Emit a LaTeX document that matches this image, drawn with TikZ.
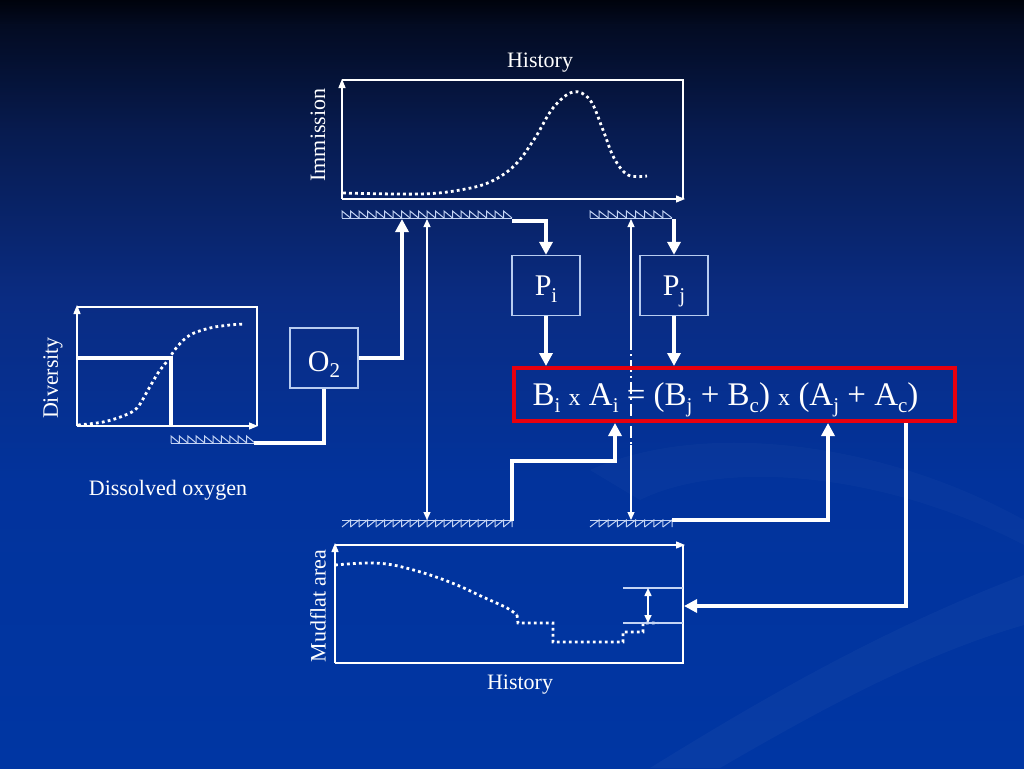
\documentclass[tikz,border=0pt]{standalone}
\usepackage{fontspec}
\setmainfont{Liberation Serif}
\usetikzlibrary{arrows.meta}
\definecolor{bg0}{HTML}{00030C}
\definecolor{bg1}{HTML}{030B22}
\definecolor{bg2}{HTML}{071B4F}
\definecolor{bg3}{HTML}{0A2C83}
\definecolor{bg4}{HTML}{02339C}
\definecolor{bg5}{HTML}{0036A3}
\definecolor{hatchc}{HTML}{C4D4F4}
\definecolor{boxc}{HTML}{B8CCF0}
\definecolor{eqred}{HTML}{E8000E}
\newcommand\sbs[2][0.22em]{\raisebox{-#1}{\fontsize{21}{21}\selectfont #2}}
\newcommand\smx{{\fontsize{24}{24}\selectfont x}}
\newcommand\hatchU[4]{%
  \draw[hatchln] (#1,#3) -- (#2,#3);
  \pgfmathsetmacro\hd{(#2-#1)/#4}
  \foreach \k in {1,...,#4}{\draw[hatchln] ({#1+(\k-1)*\hd},#3) -- ({#1+(\k-1)*\hd},#3-7) -- ({#1+\k*\hd},#3);}
}
\newcommand\hatchD[4]{%
  \draw[hatchln] (#1,#3) -- (#2,#3);
  \pgfmathsetmacro\hd{(#2-#1)/#4}
  \foreach \k in {1,...,#4}{\draw[hatchln] ({#1+(\k-1)*\hd},#3+7) -- ({#1+\k*\hd},#3) -- ({#1+\k*\hd},#3+7);}
}
\begin{document}
\begin{tikzpicture}[x=1pt,y=-1pt,
  thickarrow/.style={draw=white, line width=4pt, -{Triangle[length=13pt,width=13pt]}},
  thickline/.style={draw=white, line width=4pt},
  thinarrows/.style={draw=white, line width=1.2pt, {Triangle[length=8pt,width=7pt]}-{Triangle[length=8pt,width=7pt]}},
  axis/.style={draw=white, line width=1.3pt, -{Triangle[length=9pt,width=7pt]}},
  frame/.style={draw=white, line width=1.3pt},
  hatchln/.style={draw=hatchc, line width=1pt},
  dotc/.style={draw=white, line width=2.8pt, dash pattern=on 2.8pt off 3.2pt},
  pbox/.style={draw=boxc, line width=1.3pt, minimum width=68pt, minimum height=60pt, inner sep=0pt, text=white, font=\fontsize{30}{34}\selectfont, text height=19pt, text depth=0pt},
  lbl/.style={text=white, font=\fontsize{22}{26}\selectfont, inner sep=0pt}]
\useasboundingbox (0,0) rectangle (1024,768);
% background
\shade[top color=bg0, bottom color=bg1] (0,0) rectangle (1024,26);
\shade[top color=bg1, bottom color=bg2] (0,25) rectangle (1024,131);
\shade[top color=bg2, bottom color=bg3] (0,130) rectangle (1024,301);
\shade[top color=bg3, bottom color=bg4] (0,300) rectangle (1024,481);
\shade[top color=bg4, bottom color=bg5] (0,480) rectangle (1024,768);
\fill[white, opacity=0.03] (1024,575) .. controls (880,630) and (760,700) .. (650,768) -- (720,768) .. controls (820,710) and (920,655) .. (1024,625) -- cycle;
\fill[white, opacity=0.025] (590,470) .. controls (700,420) and (880,440) .. (1024,520) -- (1024,545) .. controls (880,470) and (720,460) .. (640,500) -- cycle;
% labels
\node[lbl] (histT) at (540,63) {History};
\node[lbl, rotate=90] (immi) at (318,135) {Immission};
\node[lbl, rotate=90] (mud) at (318,606) {Mudflat area};
\node[lbl] (histB) at (520,685) {History};
\node[lbl, rotate=90] (div) at (53,378) {Diversity};
\node[lbl] (dis) at (168,490) {Dissolved oxygen};
% top chart
\draw[frame] (342,80) -- (683,80) -- (683,199);
\draw[axis] (342,199) -- (342,79);
\draw[axis] (342,199) -- (685,199);
\draw[dotc] plot[smooth, tension=0.6] coordinates {(343,193) (420,194) (460,190) (490,182) (515,165) (535,138) (553,108) (573,92) (590,100) (603,130) (614,158) (628,175) (647,176)};
% left chart
\draw[frame] (77,307) -- (257,307) -- (257,426);
\draw[axis] (77,426) -- (77,305);
\draw[axis] (77,426) -- (258,426);
\draw[thickline] (77,358) -- (171,358) -- (171,426);
\draw[dotc] plot[smooth, tension=0.6] coordinates {(78,425) (103,422) (123,416) (137,408) (148,390) (158,373) (168,360) (177,347) (190,335) (210,328) (230,325) (245,324)};
% bottom chart
\draw[axis] (335,663) -- (335,543);
\draw[axis] (335,545) -- (685,545);
\draw[frame] (683,545) -- (683,663) -- (335,663);
\draw[dotc] plot[smooth, tension=0.6] coordinates {(335,565) (367,563) (393,565) (427,574) (457,585) (483,597) (507,608) (517,615)};
\draw[dotc] (517,615) -- (518,623) -- (553,623) -- (553,642) -- (623,642) -- (623,632) -- (643,632) -- (643,623) -- (658,623);
\draw[hatchln, line width=1.1pt] (623,588) -- (683,588) (623,623) -- (683,623);
\draw[thinarrows, line width=1.5pt] (648,588) -- (648,623);
% hatches
\hatchU{342}{512}{218}{20}
\hatchU{590}{672}{218}{9}
\hatchU{171}{255}{443}{10}
\hatchD{342}{512}{520}{20}
\hatchD{590}{672}{520}{9}
% boxes
\node[pbox] (Pi) at (546,285.5) {P\sbs[0.25em]{i}};
\node[pbox] (Pj) at (674,285.5) {P\sbs[0.25em]{j}};
\node[pbox, text height=27pt] (O2) at (324,358) {O\sbs[0.2em]{2}};
% coordinates
\coordinate (hTLe) at (512,221);
\coordinate (hTLo) at (402,219);
\coordinate (hTRe) at (674,219);
\coordinate (hL) at (254,443);
\coordinate (tIa) at (427,219);
\coordinate (tIb) at (427,520);
\coordinate (tJa) at (631,219);
\coordinate (tJ1) at (631,338);
\coordinate (tJ2) at (631,445);
\coordinate (tJb) at (631,520);
\coordinate (hBLe) at (512,521);
\coordinate (kink) at (615,461);
\coordinate (hBRe) at (672,520);
\coordinate (mudR) at (684,606);
% thin verticals
\draw[thinarrows] (tIa) -- (tIb);
\draw[draw=white, line width=1.2pt, {Triangle[length=8pt,width=7pt]}-] (tJa) -- (tJ1);
\draw[draw=white, line width=1.2pt, dash pattern=on 12pt off 4pt on 2pt off 4pt] (tJ1) -- (tJ2);
\draw[draw=white, line width=1.2pt, -{Triangle[length=8pt,width=7pt]}] (tJ2) -- (tJb);
% equation box
\node[draw=eqred, line width=4pt, minimum width=441pt, minimum height=53pt, inner sep=0pt, text=white, font=\fontsize{33}{38}\selectfont, text height=21pt, text depth=0pt] (eq) at (734.5,394.5)
 {B\sbs{i} \smx{} A\sbs{i} = (B\sbs{j} + B\sbs{c}) \smx{} (A\sbs{j} + A\sbs{c})\kern18pt\mbox{}};
\coordinate (eqAj) at (828,423);
\coordinate (eqOut) at (906,423);
% connectors
\draw[thickarrow] (hTLe) -| (Pi.north);
\draw[thickarrow] (hTRe) -- (Pj.north);
\draw[thickarrow] (Pi.south) -- (Pi.south |- eq.north);
\draw[thickarrow] (Pj.south) -- (Pj.south |- eq.north);
\draw[thickarrow] (O2.east) -| (hTLo);
\draw[thickline] (O2.south) |- (hL);
\draw[thickarrow] (hBLe) |- (kink) -- (kink |- eq.south);
\draw[thickarrow] (hBRe) -| (eqAj);
\draw[thickarrow] (eqOut) |- (mudR);
\end{tikzpicture}
\end{document}
